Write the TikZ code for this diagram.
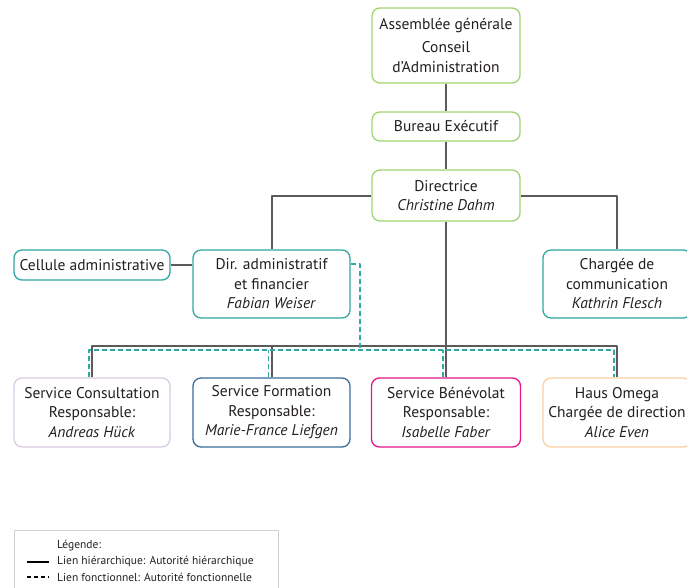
\documentclass[tikz,border=0pt]{standalone}
\usepackage{fontspec}
\setmainfont{PT Sans}
\definecolor{vert}{HTML}{A2D46E}
\definecolor{turq}{HTML}{2FA7A2}
\definecolor{lilas}{HTML}{D9CBE3}
\definecolor{acier}{HTML}{3A6D98}
\definecolor{magenta}{HTML}{E5168A}
\definecolor{peche}{HTML}{FBCFA5}
\definecolor{trait}{HTML}{5B5B5B}
\definecolor{txt}{HTML}{231F20}
\begin{document}
\begin{tikzpicture}[x=1pt,y=-1pt, line join=round,
  box/.style={draw, fill=white, rounded corners=8pt, line width=1.3pt, align=center, text=txt, inner sep=0pt, font=\fontsize{15.5}{19.5}\selectfont},
  hier/.style={draw=trait, line width=2pt},
  fonc/.style={draw=turq, line width=1.5pt, dash pattern=on 5pt off 3pt},
  leg/.style={anchor=west, text=txt, inner sep=0pt, font=\fontsize{11.5}{14}\selectfont}]
\useasboundingbox (0,0) rectangle (687,588);
% direction
\node[box, draw=vert, minimum width=148pt, minimum height=75pt] (ag) at (446,45.5) {Assemblée générale\\[4pt] Conseil\\ d’Administration};
\node[box, draw=vert, minimum width=148pt, minimum height=29pt] (bureau) at (446,126.5) {Bureau Exécutif};
\node[box, draw=vert, minimum width=148pt, minimum height=51pt] (dir) at (446,195.5) {Directrice\\ \textit{Christine Dahm}};
% second niveau
\node[box, draw=turq, minimum width=156pt, minimum height=30pt] (cellule) at (92,265) {Cellule administrative};
\node[box, draw=turq, minimum width=157pt, minimum height=68pt] (daf) at (271.5,284) {Dir. administratif\\ et financier\\ \textit{Fabian Weiser}};
\node[box, draw=turq, minimum width=148pt, minimum height=68pt] (com) at (617,284) {Chargée de\\ communication\\ \textit{Kathrin Flesch}};
% services
\node[box, draw=lilas, minimum width=156pt, minimum height=69pt] (consult) at (92,412.5) {Service Consultation\\ Responsable:\\ \textit{Andreas Hück}};
\node[box, draw=acier, minimum width=157pt, minimum height=69pt] (form) at (271.5,412.5) {Service Formation\\ Responsable:\\ \textit{Marie-France Liefgen}};
\node[box, draw=magenta, minimum width=149pt, minimum height=69pt] (benev) at (446,412.5) {Service Bénévolat\\ Responsable:\\ \textit{Isabelle Faber}};
\node[box, draw=peche, minimum width=148pt, minimum height=69pt] (omega) at (617,412.5) {Haus Omega\\ Chargée de direction\\ \textit{Alice Even}};
% liens hierarchiques
\coordinate (bus) at (446,346);
\draw[hier] (ag) -- (bureau);
\draw[hier] (bureau) -- (dir);
\draw[hier] (dir.west) -| (daf.north);
\draw[hier] (dir.east) -| (com.north);
\draw[hier] (cellule.east) -- (cellule.east -| daf.west);
\draw[hier] (dir.south) -- (bus);
\draw[hier] (consult.north) |- (omega.north |- bus) -- (omega.north);
\foreach \n in {form,benev}
  \draw[hier] (\n.north) -- (\n.north |- bus);
% liens fonctionnels
\coordinate (fb) at (360,350);
\draw[fonc] ([yshift=20pt]daf.east) -| (fb);
\draw[fonc] ([xshift=-3pt]consult.north) |- ([xshift=-3pt]omega.north |- fb) -- ([xshift=-3pt]omega.north);
\foreach \n in {form,benev}
  \draw[fonc] ([xshift=-3pt]\n.north) -- ([xshift=-3pt]\n.north |- fb);
% legende
\draw[draw=black!18, line width=1pt] (14,530) rectangle (278,600);
\node[leg] (titre) at (57,546) {Légende:};
\node[leg] (l1) at (57,562) {Lien hiérarchique: Autorité hiérarchique};
\node[leg] (l2) at (57,577) {Lien fonctionnel: Autorité fonctionnelle};
\draw[black, line width=1.3pt] (27,562) -- (49,562);
\draw[black, line width=1.1pt, dash pattern=on 4pt off 3pt] (27,577) -- (49,577);
\end{tikzpicture}
\end{document}
